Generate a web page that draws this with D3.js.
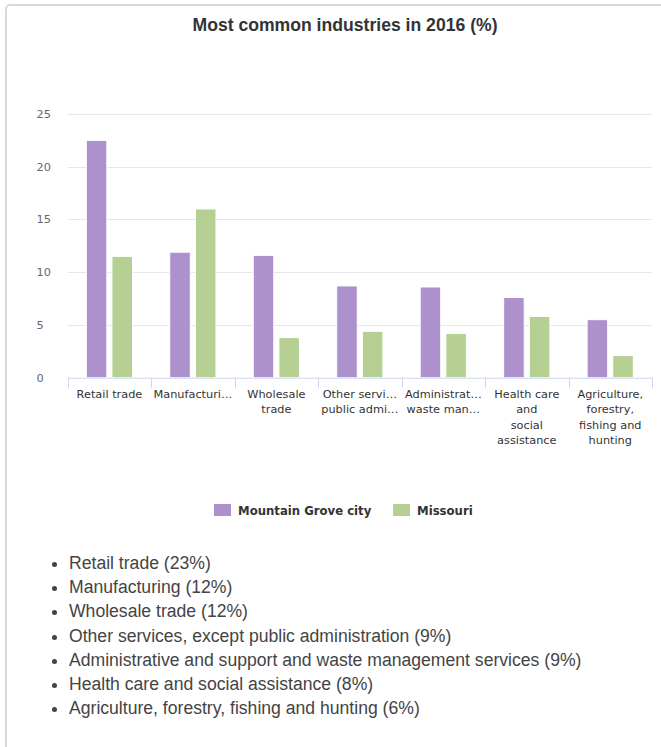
<!DOCTYPE html>
<html>
<head>
<meta charset="utf-8">
<script src="https://cdn.jsdelivr.net/npm/d3@7"></script>
<style>
  html, body { margin: 0; padding: 0; background: #fff; width: 661px; height: 747px; overflow: hidden; }
  #card { position: absolute; left: 5px; top: 4px; width: 720px; height: 800px; border: 2px solid #d9d9d9; border-radius: 5px; box-sizing: border-box; }
  svg { position: absolute; left: 0; top: 0; }
  #list { position: absolute; left: 29px; top: 551px; margin: 0; padding-left: 40px; font-family: "Liberation Sans", Arial, sans-serif; font-size: 17.6px; line-height: 24.2px; color: #444; }
  #list li { margin: 0; }
</style>
</head>
<body>
<div id="card"></div>
<svg id="chart" width="661" height="747"></svg>
<ul id="list"></ul>
<script>
const title = "Most common industries in 2016 (%)";
const categories = [
  "Retail trade",
  "Manufacturing",
  "Wholesale trade",
  "Other services, except public administration",
  "Administrative and support and waste management services",
  "Health care and social assistance",
  "Agriculture, forestry, fishing and hunting"
];
const axisLabelLines = [
  ["Retail trade"],
  ["Manufacturi…"],
  ["Wholesale", "trade"],
  ["Other servi…", "public admi…"],
  ["Administrat…", "waste man…"],
  ["Health care", "and", "social", "assistance"],
  ["Agriculture,", "forestry,", "fishing and", "hunting"]
];
const seriesNames = ["Mountain Grove city", "Missouri"];
const mountainGrove = [22.5, 11.9, 11.6, 8.7, 8.6, 7.6, 5.5];
const missouri = [11.5, 16.0, 3.8, 4.4, 4.2, 5.8, 2.1];
const yTicks = [0, 5, 10, 15, 20, 25];
const listPercents = [23, 12, 12, 9, 9, 8, 6];
const colors = ["#ad91cd", "#b6cf92"];

const svg = d3.select("#chart");
const plot = { left: 67.7, right: 652, top: 114, bottom: 377.7 };

svg.append("text")
  .attr("x", 345).attr("y", 31)
  .attr("text-anchor", "middle")
  .style("font-family", "'Liberation Sans', Arial, sans-serif")
  .style("font-size", "17.6px").style("font-weight", "bold").style("fill", "#333")
  .text(title);

const y = d3.scaleLinear().domain([0, 25]).range([plot.bottom, plot.top]);
const x0 = d3.scaleBand().domain(categories).range([plot.left, plot.right]).padding(0);
const x1 = d3.scaleBand().domain(seriesNames).range([18.6, 64.8]).paddingInner(0.2);

// grid
svg.append("g").selectAll("line").data(yTicks.filter(d => d > 0)).join("line")
  .attr("x1", plot.left).attr("x2", plot.right)
  .attr("y1", d => Math.round(y(d)) + 0.5).attr("y2", d => Math.round(y(d)) + 0.5)
  .attr("stroke", "#e6e6e6").attr("stroke-width", 1);

// y labels
svg.append("g").selectAll("text").data(yTicks).join("text")
  .attr("x", 36.5).attr("y", d => y(d) + 4)
  .style("font-family", "'DejaVu Sans', sans-serif").style("font-size", "11.3px").style("fill", "#666")
  .text(d => d);

// bars
const data = categories.map((c, i) => ({ c, vals: [mountainGrove[i], missouri[i]] }));
const groups = svg.append("g").selectAll("g").data(data).join("g")
  .attr("transform", d => `translate(${x0(d.c)},0)`);
groups.selectAll("rect").data(d => d.vals.map((v, j) => ({ s: seriesNames[j], v, j }))).join("rect")
  .attr("x", d => x1(d.s)).attr("width", x1.bandwidth())
  .attr("y", d => y(d.v)).attr("height", d => plot.bottom - y(d.v))
  .attr("fill", d => colors[d.j]).attr("stroke", "#fff").attr("stroke-width", 1);

// x axis
const axis = d3.axisBottom(x0).tickSize(0).tickFormat("");
const ax = svg.append("g").attr("transform", `translate(0,${plot.bottom})`).call(axis);
ax.select(".domain").attr("stroke", "#ccd6eb").attr("d", `M${plot.left},0.5H${plot.right}`);
const bounds = categories.map(c => x0(c)).concat([plot.right]);
svg.append("g").selectAll("line").data(bounds).join("line")
  .attr("x1", d => Math.round(d) + 0.5).attr("x2", d => Math.round(d) + 0.5)
  .attr("y1", plot.bottom).attr("y2", plot.bottom + 10)
  .attr("stroke", "#ccd6eb");

const lbl = svg.append("g").selectAll("text").data(categories).join("text")
  .attr("text-anchor", "middle")
  .attr("transform", c => `translate(${x0(c) + x0.bandwidth() / 2},${plot.bottom + 20})`)
  .style("font-family", "'DejaVu Sans', sans-serif").style("font-size", "11.3px").style("fill", "#333");
lbl.selectAll("tspan").data((c, i) => axisLabelLines[i]).join("tspan")
  .attr("x", 0).attr("y", (d, k) => k * 15.5).text(d => d);

// legend
const legendItems = [{ name: seriesNames[0], x: 214 }, { name: seriesNames[1], x: 393 }];
const lg = svg.append("g").selectAll("g").data(legendItems).join("g")
  .attr("transform", d => `translate(${d.x},504)`);
lg.append("rect").attr("width", 17).attr("height", 12).attr("fill", (d, i) => colors[i]);
lg.append("text").attr("x", 24).attr("y", 11)
  .style("font-family", "'DejaVu Sans', sans-serif").style("font-size", "11.7px").style("font-weight", "bold").style("fill", "#333")
  .text(d => d.name);

// list
d3.select("#list").selectAll("li").data(categories).join("li")
  .text((c, i) => `${c} (${listPercents[i]}%)`);
</script>
</body>
</html>
